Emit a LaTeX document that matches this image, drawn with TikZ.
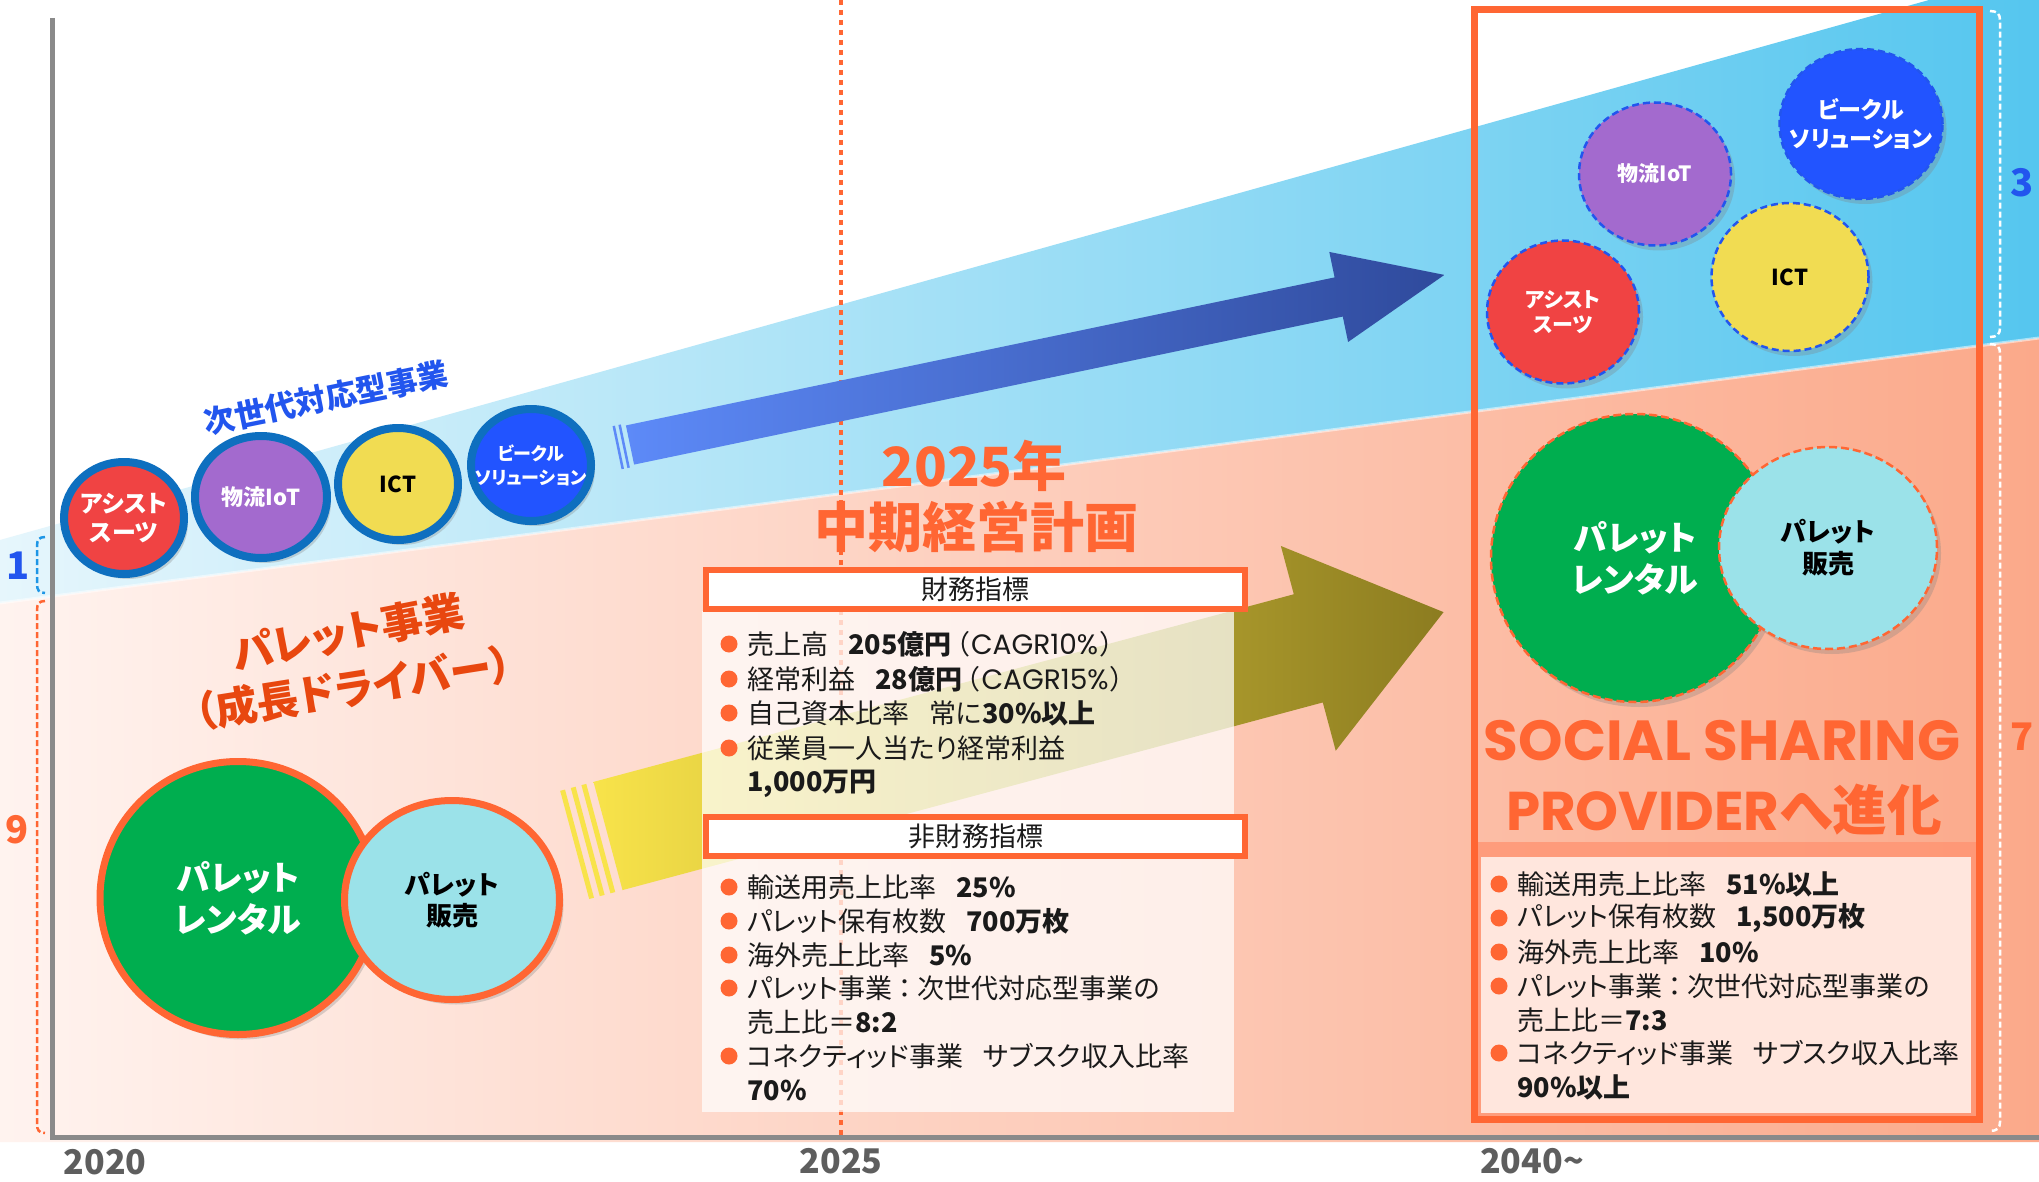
\documentclass[tikz,border=0pt]{standalone}
\usepackage{fontspec}
\usepackage{graphicx}
\setmainfont{Noto Sans CJK JP}[RawFeature={+palt}]
\newfontfamily\poppins{Poppins}
\usetikzlibrary{shapes.geometric,shadows}

\definecolor{axisgray}{HTML}{8A8A8A}
\definecolor{yeargray}{HTML}{5E5E5E}
\definecolor{accent}{HTML}{FF6633}
\definecolor{redorange}{HTML}{E8470F}
\definecolor{nxblue}{HTML}{2255EE}
\definecolor{brblue}{HTML}{1E96E6}
\definecolor{ringblue}{HTML}{0E6FBF}
\definecolor{cred}{HTML}{F04343}
\definecolor{cpurple}{HTML}{A36ACE}
\definecolor{cyellow}{HTML}{F1DC52}
\definecolor{cblue}{HTML}{2254FF}
\definecolor{cgreen}{HTML}{00AE4F}
\definecolor{clight}{HTML}{9BE2E9}
\definecolor{pinkL}{HTML}{FFF3EF}
\definecolor{pinkM}{HTML}{FDD3C3}
\definecolor{pinkR}{HTML}{FBA98A}
\definecolor{blueL}{HTML}{E6F6FC}
\definecolor{blueM}{HTML}{AEE4F7}
\definecolor{blueR}{HTML}{55C6EF}
\definecolor{txt}{HTML}{1A1A1A}
\definecolor{arrowA}{HTML}{5D8AF8}
\definecolor{arrowB}{HTML}{2F4A9C}
\definecolor{yelA}{HTML}{F8E34A}
\definecolor{yelB}{HTML}{8C7C20}
\definecolor{bandc}{HTML}{FF9472}
\definecolor{innerc}{HTML}{FFE6DD}

\newcommand\cagr[1]{\hspace{4pt}（\hspace{2pt}{\poppins\fontsize{28}{32}\selectfont CAGR#1\%}\hspace{2pt}）}

\begin{document}
\begin{tikzpicture}[x=1pt,y=-1pt,
  tline/.style={anchor=west, inner sep=0pt, text=txt, font=\fontsize{27}{32}\selectfont},
  bdot/.style={circle, fill=accent, minimum size=17pt, inner sep=0pt},
  hdr/.style={draw=accent, line width=6pt, fill=white, minimum width=539pt, minimum height=39pt, inner sep=0pt, font=\fontsize{27}{32}\selectfont, text=txt},
  shad/.style={drop shadow={shadow xshift=4pt, shadow yshift=-5pt, opacity=0.3}},
  ngL/.style={ellipse, draw=ringblue, line width=8pt, minimum width=120pt, minimum height=112pt, inner sep=-18pt, text=white, align=center, shad},
  ngR/.style={ellipse, draw=nxblue, line width=2.5pt, dash pattern=on 7pt off 4pt, inner sep=-18pt, text=white, align=center, shad},
  plL/.style={ellipse, draw=accent, line width=7pt, inner sep=-18pt, align=center, shad},
  plR/.style={ellipse, draw=accent, line width=2.5pt, dash pattern=on 8pt off 4pt, inner sep=-18pt, align=center, shad},
  yr/.style={inner sep=0pt, text=yeargray, font=\bfseries\fontsize{34}{34}\selectfont},
  numlab/.style={inner sep=0pt, font=\bfseries\fontsize{38}{38}\selectfont},
  brk/.style={line width=2.5pt, dash pattern=on 6pt off 3pt}
]
\useasboundingbox (0,0) rectangle (2039,1182);
\fill[white] (0,0) rectangle (2039,1182);

% background regions
\shade[left color=pinkL, middle color=pinkM, right color=pinkR] (0,603) -- (2039,338) -- (2039,1142) -- (0,1142) -- cycle;
\shade[left color=blueL, middle color=blueM, right color=blueR] (0,540) -- (1929,0) -- (2039,0) -- (2039,338) -- (0,603) -- cycle;
\draw[white, opacity=0.5, line width=3pt] (0,603) -- (2039,338);

% 2025 dotted line
\draw[accent, line width=3.5pt, dash pattern=on 5pt off 5pt] (841,0) -- (841,1135);

% axes
\draw[axisgray, line width=5pt] (52,18) -- (52,1137) -- (2039,1137);

% brackets
\draw[brblue, brk] (45,537) .. controls (39,537) and (37,540) .. (37,546) -- (37,584) .. controls (37,590) and (39,593) .. (45,593);
\draw[accent, brk] (45,601) .. controls (39,601) and (37,604) .. (37,610) -- (37,1124) .. controls (37,1130) and (39,1133) .. (45,1133);
\draw[white, brk] (1990,11) .. controls (1997,11) and (2000,14) .. (2000,20) -- (2000,328) .. controls (2000,334) and (1997,337) .. (1990,337);
\draw[white, brk] (1990,344) .. controls (1997,344) and (2000,347) .. (2000,353) -- (2000,1122) .. controls (2000,1128) and (1997,1131) .. (1990,1131);
\node[numlab, text=nxblue] (n1) at (18,566) {1};
\node[numlab, text=accent] (n9) at (17,830) {9};
\node[numlab, text=nxblue] (n3) at (2022,183) {3};
\node[numlab, text=accent] (n7) at (2022,737) {7};

% years
\node[yr] (y2020) at (105,1162) {2020};
\node[yr] (y2025) at (841,1161) {2025};
\node[yr] (y2040) at (1532,1161) {2040\textasciitilde};

% yellow arrow
\begin{scope}[shift={(608,836)}, rotate=15]
  \shade[left color=yelA, right color=yelB] (0,-56) -- (725,-56) -- (725,-106) -- (865,0) -- (725,106) -- (725,56) -- (0,56) -- cycle;
  \draw[yelA, line width=5pt] (-10,-56) -- (-10,56);
  \draw[yelA, line width=5pt] (-21,-56) -- (-21,56);
  \draw[yelA, line width=5pt] (-32,-56) -- (-32,56);
\end{scope}

% blue arrow
\begin{scope}[shift={(630,445)}, rotate=11.8]
  \shade[left color=arrowA, right color=arrowB] (0,-20) -- (724,-20) -- (724,-46) -- (832,0) -- (724,46) -- (724,20) -- (0,20) -- cycle;
  \draw[arrowA, line width=2.5pt] (-6,-22) -- (-6,22);
  \draw[arrowA, line width=2.5pt] (-12,-22) -- (-12,22);
\end{scope}

% title
\node[inner sep=0pt, text=accent, font=\bfseries\fontsize{54}{54}\selectfont] (t1) at (974,466) {2025年};
\node[inner sep=0pt, text=accent, font=\bfseries\fontsize{54}{54}\selectfont] (t2) at (976,527) {中期経営計画};

% center box
\fill[white, opacity=0.72] (702,611) rectangle (1234,1112);
\node[hdr] (h1) at (975.5,589.5) {財務指標};
\node[hdr] (h2) at (975.5,836.5) {非財務指標};

\node[bdot] (cb1) at (729,644) {};
\node[tline] (c1) at (747,644) {売上高\hspace{20pt}\textbf{205億円}\cagr{10}};
\node[bdot] (cb2) at (729,679) {};
\node[tline] (c2) at (747,679) {経常利益\hspace{20pt}\textbf{28億円}\cagr{15}};
\node[bdot] (cb3) at (729,713) {};
\node[tline] (c3) at (747,713) {自己資本比率\hspace{20pt}常に\textbf{30\%以上}};
\node[bdot] (cb4) at (729,748) {};
\node[tline] (c4) at (747,748) {従業員一人当たり経常利益};
\node[tline] (c4b) at (747,784) {\textbf{1,000万円}};

\node[bdot] (cn1) at (729,887) {};
\node[tline] (d1) at (747,887) {輸送用売上比率\hspace{20pt}\textbf{25\%}};
\node[bdot] (cn2) at (729,921) {};
\node[tline] (d2) at (747,921) {パレット保有枚数\hspace{20pt}\textbf{700万枚}};
\node[bdot] (cn3) at (729,955) {};
\node[tline] (d3) at (747,955) {海外売上比率\hspace{20pt}\textbf{5\%}};
\node[bdot] (cn4) at (729,988) {};
\node[tline] (d4) at (747,988) {パレット事業\hspace{6pt}：\hspace{6pt}次世代対応型事業の};
\node[tline] (d4b) at (747,1022) {売上比＝\textbf{8:2}};
\node[bdot] (cn5) at (729,1056) {};
\node[tline] (d5) at (747,1056) {コネクティッド事業\hspace{20pt}サブスク収入比率};
\node[tline] (d5b) at (747,1090) {\textbf{70\%}};

% left next-gen circles
\node[ngL, fill=cred, font=\bfseries\fontsize{24}{29}\selectfont] (la) at (124,518) {アシスト\\スーツ};
\node[ngL, fill=cpurple, minimum width=132pt, minimum height=122pt, font=\bfseries\fontsize{22}{26}\selectfont] (lb) at (261,497) {物流IoT};
\node[ngL, fill=cyellow, text=black, font=\bfseries\fontsize{22}{26}\selectfont] (lc) at (398,484) {ICT};
\node[ngL, fill=cblue, font=\bfseries\fontsize{18}{24}\selectfont] (lv) at (531,465) {ビークル\\ソリューション};
\node[rotate=11.5, inner sep=0pt, text=nxblue, font=\bfseries\fontsize{31}{31}\selectfont] (ngt) at (326,398) {次世代対応型事業};

% left pallet circles
\node[plL, fill=cgreen, minimum width=276pt, minimum height=273pt, text=white, font=\bfseries\fontsize{34}{42}\selectfont] (lg) at (238,898) {パレット\\レンタル};
\node[plL, fill=clight, minimum width=215pt, minimum height=199pt, text=black, font=\bfseries\fontsize{26}{31}\selectfont] (ll) at (452,900) {パレット\\販売};
\node[rotate=11, inner sep=0pt, text=redorange, font=\bfseries\fontsize{42}{42}\selectfont] (pl1) at (348,632) {パレット事業};
\node[rotate=9, inner sep=0pt, text=redorange, font=\bfseries\fontsize{42}{42}\selectfont] (pl2) at (353,688) {（成長ドライバー）};

% right panel
\fill[bandc, opacity=0.8] (1477,842) rectangle (1977,1117);
\fill[innerc] (1481,857) rectangle (1971,1113);
\draw[accent, line width=7pt] (1474,10) rectangle (1979,1119);

\node[ngR, fill=cpurple, minimum width=152pt, minimum height=143pt, font=\bfseries\fontsize{21}{25}\selectfont] (rb) at (1655,174) {物流IoT};
\node[ngR, fill=cblue, minimum width=163pt, minimum height=150pt, font=\bfseries\fontsize{23}{29}\selectfont] (rv) at (1861,124) {ビークル\\ソリューション};
\node[ngR, fill=cred, minimum width=152pt, minimum height=143pt, font=\bfseries\fontsize{21}{25}\selectfont] (ra) at (1563,312) {アシスト\\スーツ};
\node[ngR, fill=cyellow, text=black, minimum width=157pt, minimum height=148pt, font=\bfseries\fontsize{22}{26}\selectfont] (ri) at (1790,277) {ICT};

\node[plR, fill=cgreen, minimum width=288pt, minimum height=288pt, text=white, font=\bfseries\fontsize{34}{42}\selectfont] (rg) at (1635,558) {パレット\\レンタル};
\node[plR, fill=clight, minimum width=218pt, minimum height=202pt, text=black, font=\bfseries\fontsize{26}{32}\selectfont] (rl) at (1828,548) {パレット\\販売};

\node[inner sep=0pt, text=accent] (ss1) at (1722,741) {\resizebox{476pt}{!}{\poppins\bfseries SOCIAL SHARING}};
\node[inner sep=0pt, text=accent] (ss2) at (1724,810) {\resizebox{436pt}{!}{{\poppins\bfseries PROVIDER}\bfseries へ進化}};

\node[bdot] (rn1) at (1499,884) {};
\node[tline] (r1) at (1517,884) {輸送用売上比率\hspace{20pt}\textbf{51\%以上}};
\node[bdot] (rn2) at (1499,918) {};
\node[tline] (r2) at (1517,918) {パレット保有枚数\hspace{20pt}\textbf{1,500万枚}};
\node[bdot] (rn3) at (1499,952) {};
\node[tline] (r3) at (1517,952) {海外売上比率\hspace{20pt}\textbf{10\%}};
\node[bdot] (rn4) at (1499,986) {};
\node[tline] (r4) at (1517,986) {パレット事業\hspace{6pt}：\hspace{6pt}次世代対応型事業の};
\node[tline] (r4b) at (1517,1020) {売上比＝\textbf{7:3}};
\node[bdot] (rn5) at (1499,1053) {};
\node[tline] (r5) at (1517,1053) {コネクティッド事業\hspace{20pt}サブスク収入比率};
\node[tline] (r5b) at (1517,1087) {\textbf{90\%以上}};
\end{tikzpicture}
\end{document}
